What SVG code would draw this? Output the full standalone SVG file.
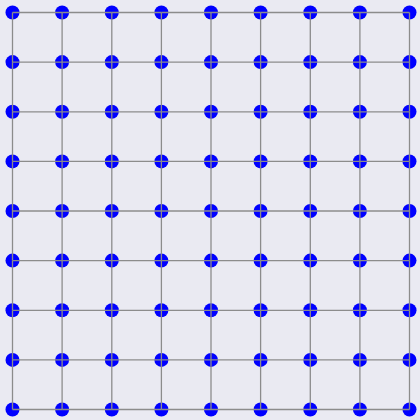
<svg xmlns="http://www.w3.org/2000/svg" width="420" height="420" viewBox="0 0 420 420">
<style>
.n circle{fill:#0000ff;stroke:none}
.e path{stroke:#8c8c8c;stroke-width:1.3;fill:none}
</style>
<rect x="0" y="0" width="420" height="420" fill="#eaeaf2"/>
<g id="nodes" class="n">
<g id="n0_0"><circle cx="12.5" cy="12.5" r="7"/></g><g id="n1_0"><circle cx="62.1" cy="12.5" r="7"/></g><g id="n2_0"><circle cx="111.8" cy="12.5" r="7"/></g><g id="n3_0"><circle cx="161.4" cy="12.5" r="7"/></g><g id="n4_0"><circle cx="211" cy="12.5" r="7"/></g><g id="n5_0"><circle cx="260.6" cy="12.5" r="7"/></g><g id="n6_0"><circle cx="310.3" cy="12.5" r="7"/></g><g id="n7_0"><circle cx="359.9" cy="12.5" r="7"/></g><g id="n8_0"><circle cx="409.5" cy="12.5" r="7"/></g>
<g id="n0_1"><circle cx="12.5" cy="62.1" r="7"/></g><g id="n1_1"><circle cx="62.1" cy="62.1" r="7"/></g><g id="n2_1"><circle cx="111.8" cy="62.1" r="7"/></g><g id="n3_1"><circle cx="161.4" cy="62.1" r="7"/></g><g id="n4_1"><circle cx="211" cy="62.1" r="7"/></g><g id="n5_1"><circle cx="260.6" cy="62.1" r="7"/></g><g id="n6_1"><circle cx="310.3" cy="62.1" r="7"/></g><g id="n7_1"><circle cx="359.9" cy="62.1" r="7"/></g><g id="n8_1"><circle cx="409.5" cy="62.1" r="7"/></g>
<g id="n0_2"><circle cx="12.5" cy="111.8" r="7"/></g><g id="n1_2"><circle cx="62.1" cy="111.8" r="7"/></g><g id="n2_2"><circle cx="111.8" cy="111.8" r="7"/></g><g id="n3_2"><circle cx="161.4" cy="111.8" r="7"/></g><g id="n4_2"><circle cx="211" cy="111.8" r="7"/></g><g id="n5_2"><circle cx="260.6" cy="111.8" r="7"/></g><g id="n6_2"><circle cx="310.3" cy="111.8" r="7"/></g><g id="n7_2"><circle cx="359.9" cy="111.8" r="7"/></g><g id="n8_2"><circle cx="409.5" cy="111.8" r="7"/></g>
<g id="n0_3"><circle cx="12.5" cy="161.4" r="7"/></g><g id="n1_3"><circle cx="62.1" cy="161.4" r="7"/></g><g id="n2_3"><circle cx="111.8" cy="161.4" r="7"/></g><g id="n3_3"><circle cx="161.4" cy="161.4" r="7"/></g><g id="n4_3"><circle cx="211" cy="161.4" r="7"/></g><g id="n5_3"><circle cx="260.6" cy="161.4" r="7"/></g><g id="n6_3"><circle cx="310.3" cy="161.4" r="7"/></g><g id="n7_3"><circle cx="359.9" cy="161.4" r="7"/></g><g id="n8_3"><circle cx="409.5" cy="161.4" r="7"/></g>
<g id="n0_4"><circle cx="12.5" cy="211" r="7"/></g><g id="n1_4"><circle cx="62.1" cy="211" r="7"/></g><g id="n2_4"><circle cx="111.8" cy="211" r="7"/></g><g id="n3_4"><circle cx="161.4" cy="211" r="7"/></g><g id="n4_4"><circle cx="211" cy="211" r="7"/></g><g id="n5_4"><circle cx="260.6" cy="211" r="7"/></g><g id="n6_4"><circle cx="310.3" cy="211" r="7"/></g><g id="n7_4"><circle cx="359.9" cy="211" r="7"/></g><g id="n8_4"><circle cx="409.5" cy="211" r="7"/></g>
<g id="n0_5"><circle cx="12.5" cy="260.6" r="7"/></g><g id="n1_5"><circle cx="62.1" cy="260.6" r="7"/></g><g id="n2_5"><circle cx="111.8" cy="260.6" r="7"/></g><g id="n3_5"><circle cx="161.4" cy="260.6" r="7"/></g><g id="n4_5"><circle cx="211" cy="260.6" r="7"/></g><g id="n5_5"><circle cx="260.6" cy="260.6" r="7"/></g><g id="n6_5"><circle cx="310.3" cy="260.6" r="7"/></g><g id="n7_5"><circle cx="359.9" cy="260.6" r="7"/></g><g id="n8_5"><circle cx="409.5" cy="260.6" r="7"/></g>
<g id="n0_6"><circle cx="12.5" cy="310.3" r="7"/></g><g id="n1_6"><circle cx="62.1" cy="310.3" r="7"/></g><g id="n2_6"><circle cx="111.8" cy="310.3" r="7"/></g><g id="n3_6"><circle cx="161.4" cy="310.3" r="7"/></g><g id="n4_6"><circle cx="211" cy="310.3" r="7"/></g><g id="n5_6"><circle cx="260.6" cy="310.3" r="7"/></g><g id="n6_6"><circle cx="310.3" cy="310.3" r="7"/></g><g id="n7_6"><circle cx="359.9" cy="310.3" r="7"/></g><g id="n8_6"><circle cx="409.5" cy="310.3" r="7"/></g>
<g id="n0_7"><circle cx="12.5" cy="359.9" r="7"/></g><g id="n1_7"><circle cx="62.1" cy="359.9" r="7"/></g><g id="n2_7"><circle cx="111.8" cy="359.9" r="7"/></g><g id="n3_7"><circle cx="161.4" cy="359.9" r="7"/></g><g id="n4_7"><circle cx="211" cy="359.9" r="7"/></g><g id="n5_7"><circle cx="260.6" cy="359.9" r="7"/></g><g id="n6_7"><circle cx="310.3" cy="359.9" r="7"/></g><g id="n7_7"><circle cx="359.9" cy="359.9" r="7"/></g><g id="n8_7"><circle cx="409.5" cy="359.9" r="7"/></g>
<g id="n0_8"><circle cx="12.5" cy="409.5" r="7"/></g><g id="n1_8"><circle cx="62.1" cy="409.5" r="7"/></g><g id="n2_8"><circle cx="111.8" cy="409.5" r="7"/></g><g id="n3_8"><circle cx="161.4" cy="409.5" r="7"/></g><g id="n4_8"><circle cx="211" cy="409.5" r="7"/></g><g id="n5_8"><circle cx="260.6" cy="409.5" r="7"/></g><g id="n6_8"><circle cx="310.3" cy="409.5" r="7"/></g><g id="n7_8"><circle cx="359.9" cy="409.5" r="7"/></g><g id="n8_8"><circle cx="409.5" cy="409.5" r="7"/></g>
</g>
<g id="connectors" class="e">
<path d="M12.5 12.5H62.1"/><path d="M62.1 12.5H111.8"/><path d="M111.8 12.5H161.4"/><path d="M161.4 12.5H211"/><path d="M211 12.5H260.6"/><path d="M260.6 12.5H310.3"/><path d="M310.3 12.5H359.9"/><path d="M359.9 12.5H409.5"/>
<path d="M12.5 62.1H62.1"/><path d="M62.1 62.1H111.8"/><path d="M111.8 62.1H161.4"/><path d="M161.4 62.1H211"/><path d="M211 62.1H260.6"/><path d="M260.6 62.1H310.3"/><path d="M310.3 62.1H359.9"/><path d="M359.9 62.1H409.5"/>
<path d="M12.5 111.8H62.1"/><path d="M62.1 111.8H111.8"/><path d="M111.8 111.8H161.4"/><path d="M161.4 111.8H211"/><path d="M211 111.8H260.6"/><path d="M260.6 111.8H310.3"/><path d="M310.3 111.8H359.9"/><path d="M359.9 111.8H409.5"/>
<path d="M12.5 161.4H62.1"/><path d="M62.1 161.4H111.8"/><path d="M111.8 161.4H161.4"/><path d="M161.4 161.4H211"/><path d="M211 161.4H260.6"/><path d="M260.6 161.4H310.3"/><path d="M310.3 161.4H359.9"/><path d="M359.9 161.4H409.5"/>
<path d="M12.5 211H62.1"/><path d="M62.1 211H111.8"/><path d="M111.8 211H161.4"/><path d="M161.4 211H211"/><path d="M211 211H260.6"/><path d="M260.6 211H310.3"/><path d="M310.3 211H359.9"/><path d="M359.9 211H409.5"/>
<path d="M12.5 260.6H62.1"/><path d="M62.1 260.6H111.8"/><path d="M111.8 260.6H161.4"/><path d="M161.4 260.6H211"/><path d="M211 260.6H260.6"/><path d="M260.6 260.6H310.3"/><path d="M310.3 260.6H359.9"/><path d="M359.9 260.6H409.5"/>
<path d="M12.5 310.3H62.1"/><path d="M62.1 310.3H111.8"/><path d="M111.8 310.3H161.4"/><path d="M161.4 310.3H211"/><path d="M211 310.3H260.6"/><path d="M260.6 310.3H310.3"/><path d="M310.3 310.3H359.9"/><path d="M359.9 310.3H409.5"/>
<path d="M12.5 359.9H62.1"/><path d="M62.1 359.9H111.8"/><path d="M111.8 359.9H161.4"/><path d="M161.4 359.9H211"/><path d="M211 359.9H260.6"/><path d="M260.6 359.9H310.3"/><path d="M310.3 359.9H359.9"/><path d="M359.9 359.9H409.5"/>
<path d="M12.5 409.5H62.1"/><path d="M62.1 409.5H111.8"/><path d="M111.8 409.5H161.4"/><path d="M161.4 409.5H211"/><path d="M211 409.5H260.6"/><path d="M260.6 409.5H310.3"/><path d="M310.3 409.5H359.9"/><path d="M359.9 409.5H409.5"/>
<path d="M12.5 12.5V62.1"/><path d="M12.5 62.1V111.8"/><path d="M12.5 111.8V161.4"/><path d="M12.5 161.4V211"/><path d="M12.5 211V260.6"/><path d="M12.5 260.6V310.3"/><path d="M12.5 310.3V359.9"/><path d="M12.5 359.9V409.5"/>
<path d="M62.1 12.5V62.1"/><path d="M62.1 62.1V111.8"/><path d="M62.1 111.8V161.4"/><path d="M62.1 161.4V211"/><path d="M62.1 211V260.6"/><path d="M62.1 260.6V310.3"/><path d="M62.1 310.3V359.9"/><path d="M62.1 359.9V409.5"/>
<path d="M111.8 12.5V62.1"/><path d="M111.8 62.1V111.8"/><path d="M111.8 111.8V161.4"/><path d="M111.8 161.4V211"/><path d="M111.8 211V260.6"/><path d="M111.8 260.6V310.3"/><path d="M111.8 310.3V359.9"/><path d="M111.8 359.9V409.5"/>
<path d="M161.4 12.5V62.1"/><path d="M161.4 62.1V111.8"/><path d="M161.4 111.8V161.4"/><path d="M161.4 161.4V211"/><path d="M161.4 211V260.6"/><path d="M161.4 260.6V310.3"/><path d="M161.4 310.3V359.9"/><path d="M161.4 359.9V409.5"/>
<path d="M211 12.5V62.1"/><path d="M211 62.1V111.8"/><path d="M211 111.8V161.4"/><path d="M211 161.4V211"/><path d="M211 211V260.6"/><path d="M211 260.6V310.3"/><path d="M211 310.3V359.9"/><path d="M211 359.9V409.5"/>
<path d="M260.6 12.5V62.1"/><path d="M260.6 62.1V111.8"/><path d="M260.6 111.8V161.4"/><path d="M260.6 161.4V211"/><path d="M260.6 211V260.6"/><path d="M260.6 260.6V310.3"/><path d="M260.6 310.3V359.9"/><path d="M260.6 359.9V409.5"/>
<path d="M310.3 12.5V62.1"/><path d="M310.3 62.1V111.8"/><path d="M310.3 111.8V161.4"/><path d="M310.3 161.4V211"/><path d="M310.3 211V260.6"/><path d="M310.3 260.6V310.3"/><path d="M310.3 310.3V359.9"/><path d="M310.3 359.9V409.5"/>
<path d="M359.9 12.5V62.1"/><path d="M359.9 62.1V111.8"/><path d="M359.9 111.8V161.4"/><path d="M359.9 161.4V211"/><path d="M359.9 211V260.6"/><path d="M359.9 260.6V310.3"/><path d="M359.9 310.3V359.9"/><path d="M359.9 359.9V409.5"/>
<path d="M409.5 12.5V62.1"/><path d="M409.5 62.1V111.8"/><path d="M409.5 111.8V161.4"/><path d="M409.5 161.4V211"/><path d="M409.5 211V260.6"/><path d="M409.5 260.6V310.3"/><path d="M409.5 310.3V359.9"/><path d="M409.5 359.9V409.5"/>
</g>
</svg>
